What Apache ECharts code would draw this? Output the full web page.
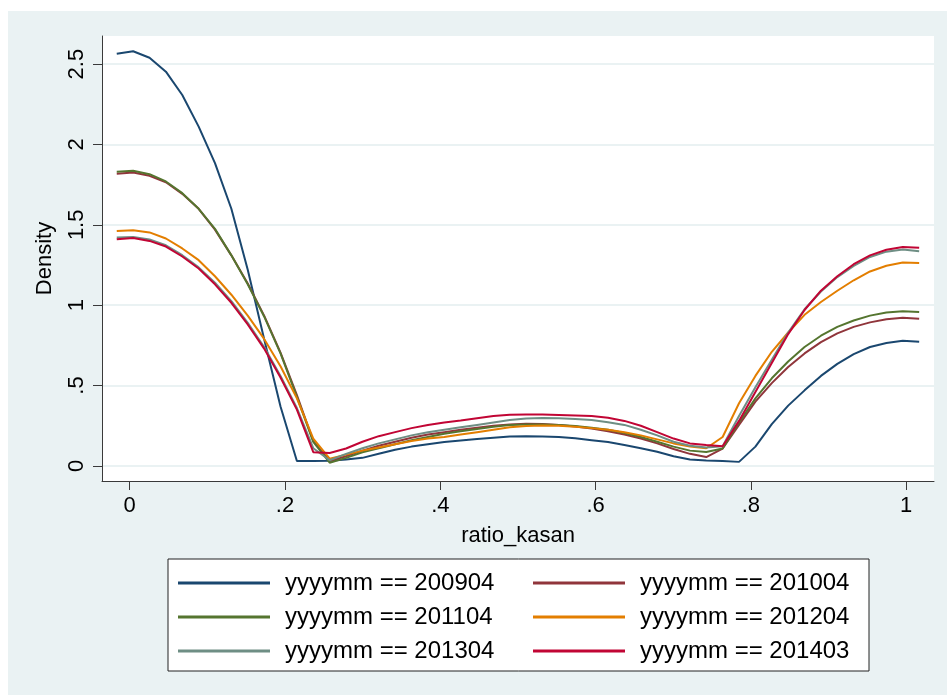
<!DOCTYPE html>
<html>
<head>
<meta charset="utf-8">
<script src="https://cdn.jsdelivr.net/npm/echarts@6/dist/echarts.min.js"></script>
<style>
html,body{margin:0;padding:0;background:#ffffff;}
#chart{position:absolute;left:8px;top:11px;width:939px;height:684px;background:#EAF2F3;}
</style>
</head>
<body>
<div id="chart"></div>
<script>
// Evaluation grid (ratio_kasan)
const xGrid = [-0.0167,0.0044,0.0255,0.0466,0.0677,0.0888,0.1098,0.1309,0.1520,0.1731,
  0.1942,0.2153,0.2364,0.2575,0.2786,0.2997,0.3207,0.3418,0.3629,0.3840,
  0.4051,0.4262,0.4473,0.4684,0.4895,0.5106,0.5316,0.5527,0.5738,0.5949,
  0.6160,0.6371,0.6582,0.6793,0.7004,0.7215,0.7425,0.7636,0.7847,0.8058,
  0.8269,0.8480,0.8691,0.8902,0.9113,0.9324,0.9534,0.9745,0.9956,1.0167];

const seriesNames = ['yyyymm == 200904','yyyymm == 201004','yyyymm == 201104',
  'yyyymm == 201204','yyyymm == 201304','yyyymm == 201403'];

const d200904 = [2.565,2.580,2.540,2.453,2.308,2.111,1.884,1.600,1.220,0.790,
  0.370,0.030,0.030,0.032,0.040,0.050,0.075,0.100,0.120,0.135,
  0.148,0.158,0.167,0.175,0.183,0.185,0.183,0.180,0.172,0.160,
  0.148,0.130,0.110,0.088,0.060,0.040,0.033,0.030,0.025,0.120,
  0.260,0.375,0.470,0.560,0.635,0.695,0.740,0.765,0.778,0.772];

const d201004 = [1.818,1.825,1.805,1.765,1.693,1.600,1.470,1.310,1.135,0.935,
  0.705,0.440,0.155,0.030,0.060,0.095,0.125,0.150,0.175,0.195,
  0.210,0.225,0.238,0.250,0.258,0.262,0.260,0.255,0.245,0.232,
  0.215,0.195,0.170,0.140,0.105,0.075,0.055,0.108,0.255,0.400,
  0.515,0.615,0.700,0.770,0.825,0.865,0.893,0.913,0.922,0.915];

const d201104 = [1.830,1.836,1.815,1.770,1.697,1.600,1.475,1.310,1.130,0.930,
  0.700,0.430,0.150,0.020,0.050,0.085,0.110,0.135,0.160,0.180,
  0.200,0.215,0.230,0.243,0.255,0.258,0.258,0.255,0.248,0.238,
  0.225,0.205,0.180,0.150,0.120,0.095,0.087,0.108,0.270,0.420,
  0.545,0.650,0.740,0.810,0.865,0.905,0.935,0.955,0.963,0.958];

const d201204 = [1.461,1.467,1.453,1.415,1.353,1.280,1.180,1.065,0.935,0.790,
  0.620,0.420,0.170,0.045,0.070,0.095,0.115,0.135,0.155,0.170,
  0.180,0.195,0.210,0.225,0.240,0.248,0.252,0.250,0.243,0.235,
  0.225,0.210,0.190,0.165,0.140,0.120,0.110,0.180,0.390,0.560,
  0.710,0.830,0.940,1.020,1.090,1.155,1.210,1.245,1.265,1.262];

const d201304 = [1.421,1.425,1.409,1.373,1.311,1.235,1.140,1.025,0.890,0.740,
  0.560,0.360,0.110,0.035,0.075,0.110,0.140,0.165,0.190,0.210,
  0.225,0.240,0.255,0.270,0.285,0.295,0.298,0.297,0.292,0.285,
  0.272,0.255,0.225,0.190,0.150,0.125,0.115,0.122,0.310,0.490,
  0.660,0.830,0.975,1.085,1.175,1.245,1.300,1.333,1.347,1.336];

const d201403 = [1.410,1.418,1.400,1.365,1.303,1.228,1.130,1.015,0.880,0.730,
  0.550,0.350,0.085,0.080,0.108,0.150,0.185,0.210,0.235,0.255,
  0.270,0.283,0.297,0.310,0.318,0.320,0.320,0.317,0.314,0.311,
  0.300,0.280,0.250,0.210,0.170,0.140,0.130,0.122,0.280,0.460,
  0.640,0.820,0.970,1.090,1.180,1.255,1.310,1.345,1.362,1.357];

const xTicks = [0, 0.2, 0.4, 0.6, 0.8, 1];
const xTickLabels = ['0', '.2', '.4', '.6', '.8', '1'];
const yTicks = [0, 0.5, 1, 1.5, 2, 2.5];
const yTickLabels = ['0', '.5', '1', '1.5', '2', '2.5'];

const colors = ['#1A476F','#90353B','#55752F','#E37E00','#6E8E84','#C10534'];
const allData = [d200904, d201004, d201104, d201204, d201304, d201403];

const FONT = 'Liberation Sans, Arial, Helvetica, sans-serif';

const chart = echarts.init(document.getElementById('chart'), null, {renderer: 'canvas'});

const series = allData.map((arr, k) => ({
  name: seriesNames[k],
  type: 'line',
  data: arr.map((v, i) => [xGrid[i], v]),
  showSymbol: false,
  symbol: 'none',
  lineStyle: {color: colors[k], width: 2},
  itemStyle: {color: colors[k]},
  animation: false
}));

const legendData = seriesNames.map((n, k) => ({
  name: n,
  textStyle: (k % 2 === 0) ? {width: 240} : {width: 214}
}));

chart.setOption({
  animation: false,
  color: colors,
  textStyle: {fontFamily: FONT},
  grid: {
    left: 94, top: 25, width: 832, height: 445,
    show: true, backgroundColor: '#ffffff', borderWidth: 0
  },
  xAxis: {
    type: 'value',
    min: -0.0357, max: 1.0358,
    name: 'ratio_kasan',
    nameLocation: 'middle',
    nameGap: 44,
    nameTextStyle: {fontSize: 22, color: '#000', fontFamily: FONT},
    axisLine: {show: true, onZero: false, lineStyle: {color: '#3a3a3a', width: 1}},
    axisTick: {show: true, inside: false, length: 9, customValues: xTicks, lineStyle: {color: '#3a3a3a', width: 1}},
    axisLabel: {
      show: true, customValues: xTicks, margin: 14, fontSize: 22, color: '#000', fontFamily: FONT,
      formatter: v => { const i = xTicks.findIndex(t => Math.abs(t - v) < 1e-9); return i >= 0 ? xTickLabels[i] : ''; }
    },
    splitLine: {show: false}
  },
  yAxis: {
    type: 'value',
    min: -0.094, max: 2.675,
    name: 'Density',
    nameLocation: 'middle',
    nameGap: 46,
    nameRotate: 90,
    nameTextStyle: {fontSize: 22, color: '#000', fontFamily: FONT},
    axisLine: {show: true, onZero: false, lineStyle: {color: '#3a3a3a', width: 1}},
    axisTick: {show: true, inside: false, length: 9, customValues: yTicks, lineStyle: {color: '#3a3a3a', width: 1}},
    axisLabel: {
      show: true, customValues: yTicks, rotate: 90, margin: 14, fontSize: 22, color: '#000', fontFamily: FONT,
      formatter: v => { const i = yTicks.findIndex(t => Math.abs(t - v) < 1e-9); return i >= 0 ? yTickLabels[i] : ''; }
    },
    splitLine: {show: true, lineStyle: {color: '#EAF2F3', width: 2}}
  },
  legend: {
    show: true,
    left: 160, top: 548,
    width: 690,
    orient: 'horizontal',
    icon: 'rect',
    itemWidth: 92, itemHeight: 3,
    itemGap: 8,
    padding: [11, 15, 7, 10],
    backgroundColor: '#ffffff',
    borderColor: '#222222', borderWidth: 1,
    textStyle: {fontSize: 24, color: '#000', fontFamily: FONT, lineHeight: 26, padding: [0, 0, 0, 10]},
    data: legendData,
    selectedMode: false
  },
  series: series
});
</script>
</body>
</html>
